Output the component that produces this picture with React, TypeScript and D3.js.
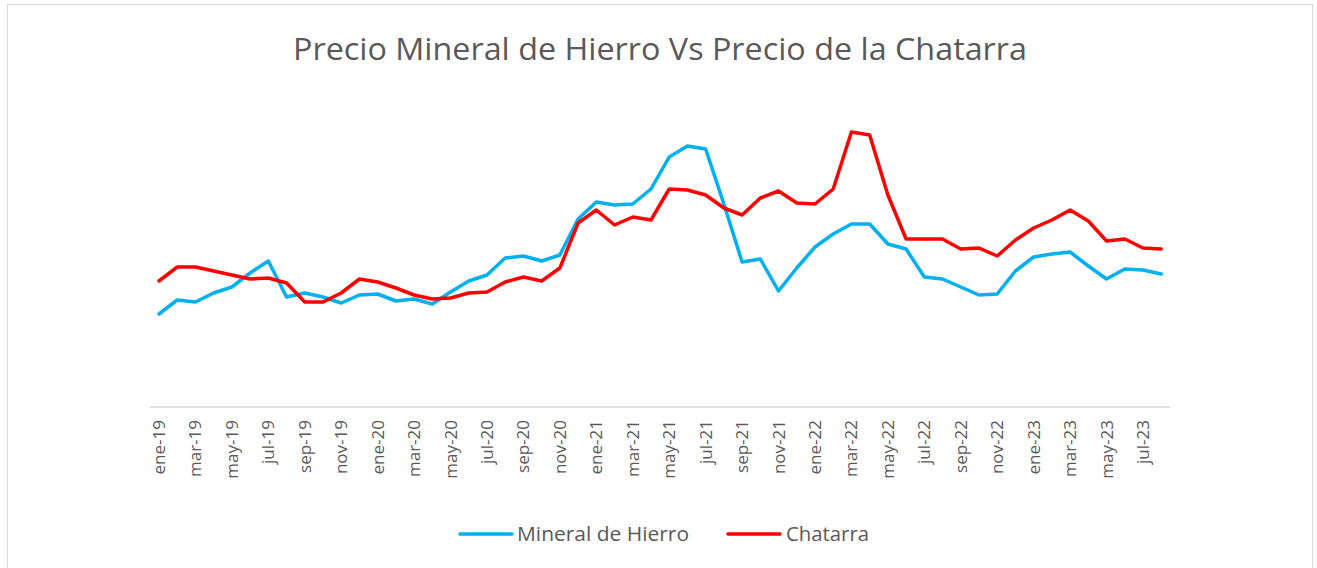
import React from "react";
import * as d3 from "d3";

const months = ["ene","feb","mar","abr","may","jun","jul","ago","sep","oct","nov","dic"];
const years = ["19","20","21","22","23"];
const categories: string[] = [];
years.forEach((y) => months.forEach((m) => categories.push(`${m}-${y}`)));
const dates = categories.slice(0, 56);

const mineral = [93,107,105,114,120,134,146,110,114,110,104,112,113,106,108,103,115,126,132,149,151,146,152,188,205,202,203,218,250,261,258,203,145,148,116,139,160,173,183,183,163,158,130,128,120,112,113,136,150,153,155,141,128,138,137,133];
const chatarra = [126,140,140,136,132,128,129,124,105,105,114,128,125,119,112,108,109,114,115,125,130,126,139,184,197,182,190,187,218,217,212,199,192,209,216,204,203,218,275,272,212,168,168,168,158,159,151,167,179,187,197,186,166,168,159,158];

const series = [
  { name: "Mineral de Hierro", values: mineral, color: "#00B0F0", tl: 172 },
  { name: "Chatarra", values: chatarra, color: "#FF0000", tl: 83 },
];

const W = 1317, H = 568;
const FONT = "'Open Sans', 'Noto Sans', sans-serif";

export default function App() {
  const x = d3.scalePoint<string>().domain(dates).range([159, 1161.2]);
  const y = d3.scaleLinear().domain([0, 300]).range([407, 107]);
  const line = d3.line<number>()
    .x((_, i) => x(dates[i]) as number)
    .y((d) => y(d));
  const tickLabels = dates.filter((_, i) => i % 2 === 0);

  return (
    <svg width={W} height={H} style={{ position: "absolute", left: 0, top: 0, background: "#fff" }}>
      <rect x={7.5} y={4.5} width={1305} height={580} fill="#fff" stroke="#d9d9d9" strokeWidth={1} />
      <text x={660} y={60} textAnchor="middle" fontFamily={FONT} fontSize={31} fill="#595959"
        textLength={734} lengthAdjust="spacingAndGlyphs">
        Precio Mineral de Hierro Vs Precio de la Chatarra
      </text>
      <line x1={150} x2={1170} y1={y(0)} y2={y(0)} stroke="#d9d9d9" strokeWidth={1.5} />
      {tickLabels.map((d) => (
        <text key={d} transform={`translate(${(x(d) as number) + 6},${420}) rotate(-90)`}
          textAnchor="end" fontFamily={FONT} fontSize={17} fill="#595959">{d}</text>
      ))}
      {series.map((s) => (
        <path key={s.name} d={line(s.values) || ""} fill="none" stroke={s.color}
          strokeWidth={3.5} strokeLinejoin="round" strokeLinecap="round" />
      ))}
      <g>
        <line x1={460} x2={512} y1={534} y2={534} stroke={series[0].color} strokeWidth={3.5} strokeLinecap="round" />
        <text x={517} y={541} fontFamily={FONT} fontSize={20} fill="#595959"
          textLength={series[0].tl} lengthAdjust="spacingAndGlyphs">{series[0].name}</text>
        <line x1={728} x2={780} y1={534} y2={534} stroke={series[1].color} strokeWidth={3.5} strokeLinecap="round" />
        <text x={786} y={541} fontFamily={FONT} fontSize={20} fill="#595959"
          textLength={series[1].tl} lengthAdjust="spacingAndGlyphs">{series[1].name}</text>
      </g>
    </svg>
  );
}
